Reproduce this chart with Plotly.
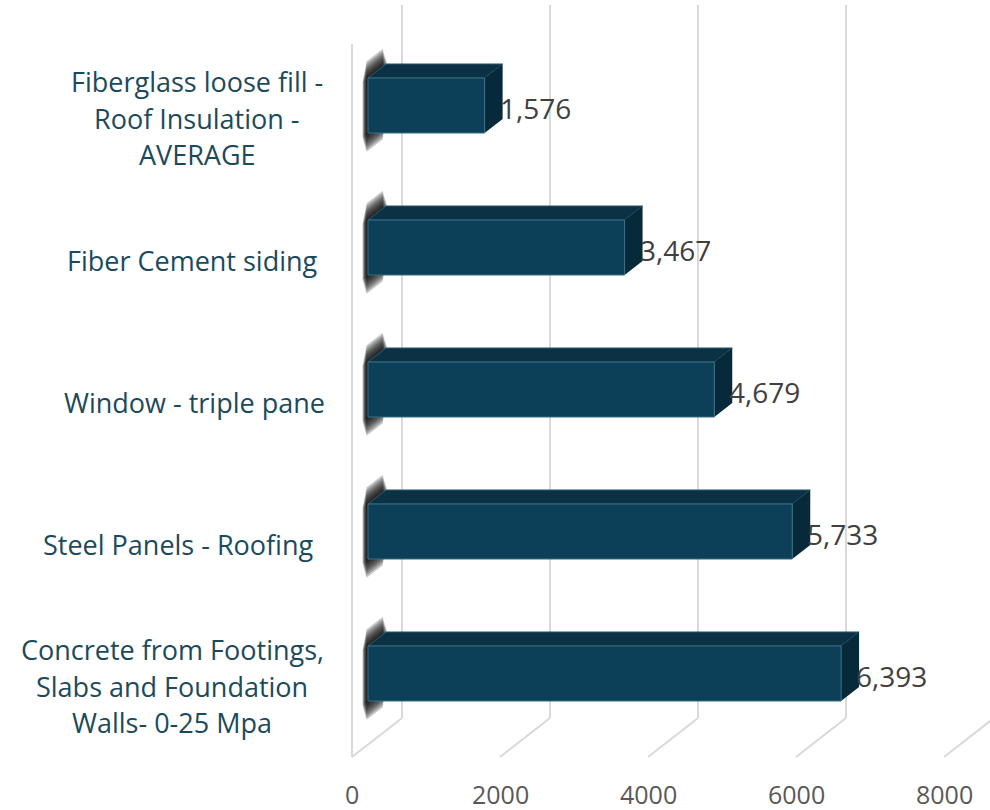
import plotly.graph_objects as go

# ---- data ----
categories = [
    ["Fiberglass loose fill -", "Roof Insulation -", "AVERAGE"],
    ["Fiber Cement siding"],
    ["Window - triple pane"],
    ["Steel Panels - Roofing"],
    ["Concrete from Footings,", "Slabs and Foundation", "Walls- 0-25 Mpa"],
]
values = [1576, 3467, 4679, 5733, 6393]
tick_values = [0, 2000, 4000, 6000, 8000]
tick_labels = ["0", "2000", "4000", "6000", "8000"]

# ---- page / projection set-up ----
W, H = 990, 810
PX_PER_UNIT = 0.074          # horizontal pixels per value unit
X0_PX = 352                  # value 0 on the front plane
ROW_PX = 142                 # pixels between categories
ROW0_PX = 118                # first category centre on the front plane
DEPTH_DX_PX, DEPTH_DY_PX = 50, -39   # screen offset of the back plane

ddx = DEPTH_DX_PX / PX_PER_UNIT      # depth offset in value units
ddy = DEPTH_DY_PX / ROW_PX           # depth offset in category units (reversed axis)

x_range = [-X0_PX / PX_PER_UNIT, (W - X0_PX) / PX_PER_UNIT]
y_range = [(H - ROW0_PX) / ROW_PX, -ROW0_PX / ROW_PX]

FLOOR = (757 - ROW0_PX) / ROW_PX     # floor level on the front plane
TOP = (44 - ROW0_PX) / ROW_PX        # wall top on the front plane

BAR_D0, BAR_D1 = 0.32, 0.68          # bar depth span
BAR_HALF = 27.5 / ROW_PX             # half bar thickness

# horizontal centre (px) of each category label block
LABEL_CX = [197, 192, 194, 178, 172]

FRONT = "#0c4058"
TOPC = "#0a3144"
SIDE = "#072a3a"
GRID = "#d9d9d9"
CAT_COLOR = "#1b4a5c"
VAL_COLOR = "#404040"
TICK_COLOR = "#595959"


def proj(v, yi, d):
    return v + d * ddx, yi + d * ddy


def poly(points, color, opacity=1.0, line=None):
    xs, ys = zip(*[proj(*p) for p in points])
    xs, ys = list(xs) + [xs[0]], list(ys) + [ys[0]]
    return go.Scatter(
        x=xs, y=ys, mode="lines", fill="toself", fillcolor=color,
        opacity=opacity,
        line=line or dict(width=0, color=color),
        hoverinfo="skip", showlegend=False,
    )


def seg(p, q, color=GRID, width=2):
    (x0, y0), (x1, y1) = proj(*p), proj(*q)
    return go.Scatter(x=[x0, x1], y=[y0, y1], mode="lines",
                      line=dict(color=color, width=width),
                      hoverinfo="skip", showlegend=False)


fig = go.Figure()

# walls and gridlines
fig.add_trace(seg((0, TOP, 0), (0, FLOOR, 0)))
for t in tick_values:
    fig.add_trace(seg((t, TOP, 1), (t, FLOOR, 1)))
    fig.add_trace(seg((t, FLOOR, 0), (t, FLOOR, 1)))

# soft shadows where bars meet the side wall (stacked translucent layers)
for i in range(len(values)):
    for k in range(8):
        ey = (1 + 2.4 * k) / ROW_PX
        d_left = BAR_D0 - 0.11 + 0.011 * k
        d_right = BAR_D1 + 0.02 - 0.012 * k
        fig.add_trace(poly(
            [(0, i - BAR_HALF - ey, d_left),
             (0, i - BAR_HALF - ey, d_right),
             (0, i + BAR_HALF + ey, d_right),
             (0, i + BAR_HALF + ey, d_left)],
            "#000000", opacity=0.22))

# 3-D bars
for i, v in enumerate(values):
    top, bot = i - BAR_HALF, i + BAR_HALF
    fig.add_trace(poly([(0, top, BAR_D0), (v, top, BAR_D0),
                        (v, top, BAR_D1), (0, top, BAR_D1)], TOPC,
                       line=dict(width=1, color="#2f5a6e")))
    fig.add_trace(poly([(v, top, BAR_D0), (v, bot, BAR_D0),
                        (v, bot, BAR_D1), (v, top, BAR_D1)], SIDE))
    fig.add_trace(poly([(0, top, BAR_D0), (v, top, BAR_D0),
                        (v, bot, BAR_D0), (0, bot, BAR_D0)], FRONT,
                       line=dict(width=1, color="#3d6e85")))

annotations = []

# value labels beside each bar
for i, v in enumerate(values):
    x, y = proj(v, i, BAR_D0)
    x_back, _ = proj(v, i, BAR_D1)
    annotations.append(dict(
        x=x_back, y=y + 2 / ROW_PX, xref="x", yref="y", text=f"{v:,}",
        showarrow=False, xanchor="left", yanchor="middle", xshift=-5,
        font=dict(family="Open Sans", size=28, color=VAL_COLOR)))

# category labels
LINE_GAP = 36.5 / ROW_PX
for i, lines in enumerate(categories):
    n = len(lines)
    for j, txt in enumerate(lines):
        annotations.append(dict(
            x=LABEL_CX[i] / W, y=i + (j - (n - 1) / 2) * LINE_GAP,
            xref="paper", yref="y", text=txt, showarrow=False,
            xanchor="center", yanchor="middle",
            font=dict(family="Open Sans", size=27, color=CAT_COLOR)))

# value axis tick labels
tick_y = (794 - ROW0_PX) / ROW_PX
for t, lab in zip(tick_values, tick_labels):
    annotations.append(dict(
        x=t, y=tick_y, xref="x", yref="y", text=lab, showarrow=False,
        xanchor="center", yanchor="middle",
        font=dict(family="Open Sans", size=25, color=TICK_COLOR)))

fig.update_layout(
    width=W, height=H,
    margin=dict(l=0, r=0, t=0, b=0),
    paper_bgcolor="white", plot_bgcolor="white",
    showlegend=False,
    xaxis=dict(range=x_range, visible=False, fixedrange=True),
    yaxis=dict(range=y_range, visible=False, fixedrange=True),
    annotations=annotations,
)

fig.write_html("out.html")
